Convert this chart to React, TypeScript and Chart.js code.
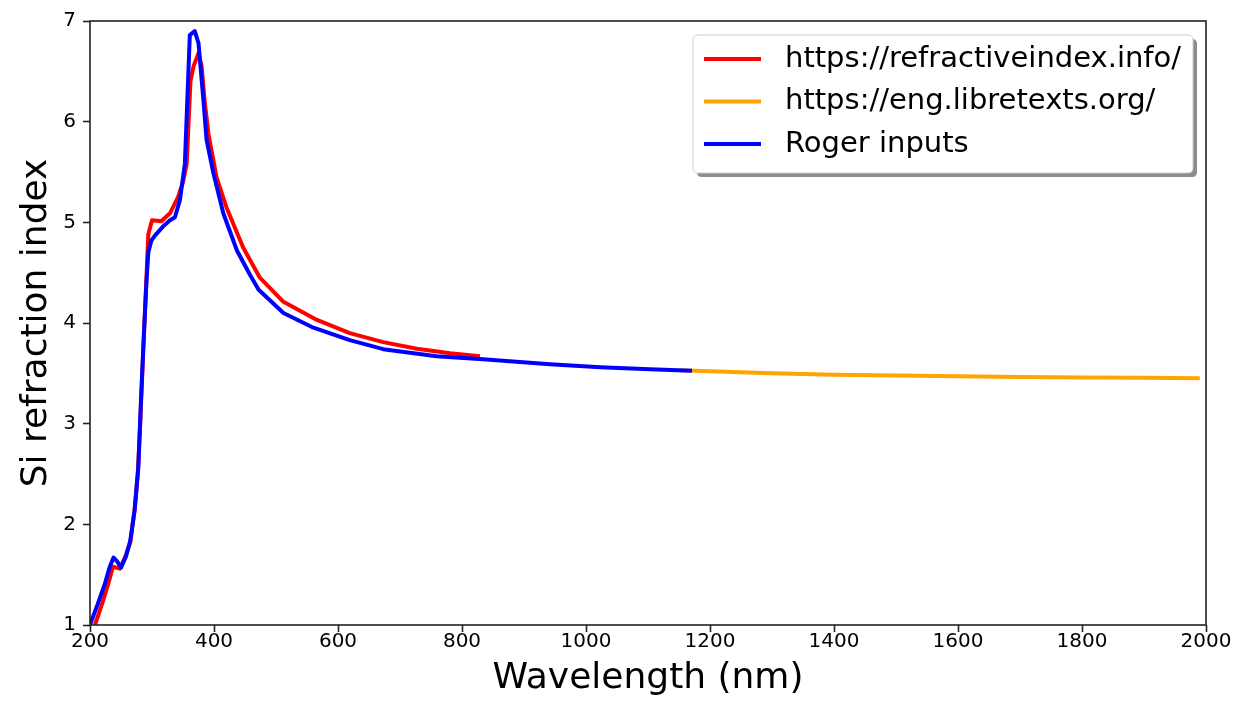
import { useEffect, useRef } from 'react';
import { Chart, registerables } from 'chart.js';

Chart.register(...registerables);

const seriesLabels = ['https://refractiveindex.info/', 'https://eng.libretexts.org/', 'Roger inputs'];
const seriesColors = ['#ff0000', '#ffa500', '#0000ff'];

const redWavelength = [208, 220, 230, 237, 248, 257, 265, 272, 277, 281, 285, 290, 294, 300, 315, 329, 342, 350, 356, 362, 367, 375, 380, 385, 391, 404, 420, 447, 474, 512, 566, 619, 673, 727, 781, 829];
const redIndex = [1.0, 1.22, 1.42, 1.58, 1.56, 1.68, 1.82, 2.15, 2.5, 3.0, 3.6, 4.3, 4.88, 5.02, 5.01, 5.09, 5.25, 5.4, 5.58, 6.4, 6.55, 6.68, 6.55, 6.2, 5.88, 5.45, 5.15, 4.75, 4.45, 4.21, 4.03, 3.9, 3.81, 3.745, 3.7, 3.67];

const orangeWavelength = [1150, 1200, 1300, 1400, 1500, 1600, 1700, 1800, 1900, 1990];
const orangeIndex = [3.53, 3.52, 3.5, 3.487, 3.478, 3.47, 3.464, 3.459, 3.455, 3.452];

const blueWavelength = [200, 212, 224, 232, 238, 244, 250, 258, 265, 272, 278, 282, 287, 291, 294, 299, 305, 318, 329, 337, 345, 353, 361, 369, 375, 383, 388, 399, 415, 437, 458, 472, 512, 558, 619, 673, 759, 834, 942, 1023, 1103, 1171];
const blueIndex = [1.0, 1.2, 1.41, 1.58, 1.67, 1.63, 1.57, 1.68, 1.84, 2.14, 2.57, 3.2, 3.9, 4.4, 4.7, 4.82, 4.87, 4.96, 5.02, 5.05, 5.22, 5.58, 6.86, 6.9, 6.78, 6.21, 5.82, 5.49, 5.09, 4.72, 4.48, 4.33, 4.1, 3.96, 3.83, 3.74, 3.67, 3.64, 3.59, 3.56, 3.54, 3.525];

const xMin = 200;
const xMax = 2000;
const xStep = 200;
const yMin = 1;
const yMax = 7;
const yStep = 1;

const FONT = "'DejaVu Sans', sans-serif";

function toPoints(xs: number[], ys: number[]) {
  return xs.map((x, i) => ({ x, y: ys[i] }));
}

function roundRect(ctx: CanvasRenderingContext2D, x: number, y: number, w: number, h: number, r: number) {
  ctx.beginPath();
  ctx.moveTo(x + r, y);
  ctx.lineTo(x + w - r, y);
  ctx.quadraticCurveTo(x + w, y, x + w, y + r);
  ctx.lineTo(x + w, y + h - r);
  ctx.quadraticCurveTo(x + w, y + h, x + w - r, y + h);
  ctx.lineTo(x + r, y + h);
  ctx.quadraticCurveTo(x, y + h, x, y + h - r);
  ctx.lineTo(x, y + r);
  ctx.quadraticCurveTo(x, y, x + r, y);
  ctx.closePath();
}

const framePlugin = {
  id: 'frameAndLegend',
  afterDraw(chart: any) {
    const { ctx, chartArea: a } = chart;
    ctx.save();
    ctx.strokeStyle = '#222';
    ctx.lineWidth = 1.6;
    ctx.strokeRect(a.left, a.top, a.right - a.left, a.bottom - a.top);

    // legend
    const bw = 500;
    const bh = 138;
    const bx = a.right - 13 - bw;
    const by = a.top + 14;
    roundRect(ctx, bx + 4, by + 4, bw, bh, 5);
    ctx.fillStyle = 'rgba(0,0,0,0.45)';
    ctx.fill();
    roundRect(ctx, bx, by, bw, bh, 5);
    ctx.fillStyle = '#ffffff';
    ctx.fill();
    ctx.strokeStyle = '#cccccc';
    ctx.lineWidth = 1;
    ctx.stroke();

    ctx.font = `29px ${FONT}`;
    ctx.textBaseline = 'middle';
    ctx.textAlign = 'left';
    seriesLabels.forEach((label, i) => {
      const cy = by + 24 + i * 42.5;
      ctx.strokeStyle = seriesColors[i];
      ctx.lineWidth = 3.8;
      ctx.beginPath();
      ctx.moveTo(bx + 11, cy);
      ctx.lineTo(bx + 68, cy);
      ctx.stroke();
      ctx.fillStyle = '#000';
      ctx.fillText(label, bx + 92, cy);
    });
    ctx.restore();
  },
};

export default function App() {
  const canvasRef = useRef<HTMLCanvasElement | null>(null);

  useEffect(() => {
    if (!canvasRef.current) return;
    const lineStyle = { showLine: true, pointRadius: 0, borderWidth: 4, tension: 0, fill: false, borderJoinStyle: 'round', borderCapStyle: 'butt' };
    const chart = new Chart(canvasRef.current, {
      type: 'scatter',
      data: {
        datasets: [
          { label: seriesLabels[0], data: toPoints(redWavelength, redIndex), borderColor: seriesColors[0], backgroundColor: seriesColors[0], order: 2, ...lineStyle },
          { label: seriesLabels[1], data: toPoints(orangeWavelength, orangeIndex), borderColor: seriesColors[1], backgroundColor: seriesColors[1], order: 1, ...lineStyle },
          { label: seriesLabels[2], data: toPoints(blueWavelength, blueIndex), borderColor: seriesColors[2], backgroundColor: seriesColors[2], order: 0, ...lineStyle },
        ],
      },
      options: {
        animation: false,
        responsive: false,
        devicePixelRatio: 1,
        layout: { padding: { left: 0, right: 37, top: 21, bottom: 0 } },
        plugins: { legend: { display: false }, tooltip: { enabled: false } },
        scales: {
          x: {
            type: 'linear',
            min: xMin,
            max: xMax,
            ticks: { stepSize: xStep, autoSkip: false, maxRotation: 0, color: '#000', padding: 0, font: { family: FONT, size: 20, lineHeight: 1 }, callback: (v: any) => String(v) },
            grid: { drawOnChartArea: false, drawTicks: true, tickLength: 7, tickWidth: 1.6, tickColor: '#222' },
            border: { display: false },
            title: { display: true, text: 'Wavelength (nm)', color: '#000', font: { family: FONT, size: 36, lineHeight: 1.2 }, padding: { top: 0, bottom: 2 } },
            afterFit: (s: any) => { s.height = 77; },
          },
          y: {
            type: 'linear',
            min: yMin,
            max: yMax,
            ticks: { stepSize: yStep, color: '#000', padding: 7, font: { family: FONT, size: 20, lineHeight: 1 }, callback: (v: any) => String(v) },
            grid: { drawOnChartArea: false, drawTicks: true, tickLength: 7, tickWidth: 1.6, tickColor: '#222' },
            border: { display: false },
            title: { display: true, text: 'Si refraction index', color: '#000', font: { family: FONT, size: 36, lineHeight: 1.2 }, padding: { top: 15, bottom: 0 } },
            afterFit: (s: any) => { s.width = 90; },
          },
        },
      } as any,
      plugins: [framePlugin],
    });
    return () => chart.destroy();
  }, []);

  return (
    <div style={{ position: 'absolute', left: 0, top: 0, width: 1243, height: 702, background: '#fff' }}>
      <canvas ref={canvasRef} width={1243} height={702} style={{ display: 'block', width: 1243, height: 702 }} />
    </div>
  );
}
